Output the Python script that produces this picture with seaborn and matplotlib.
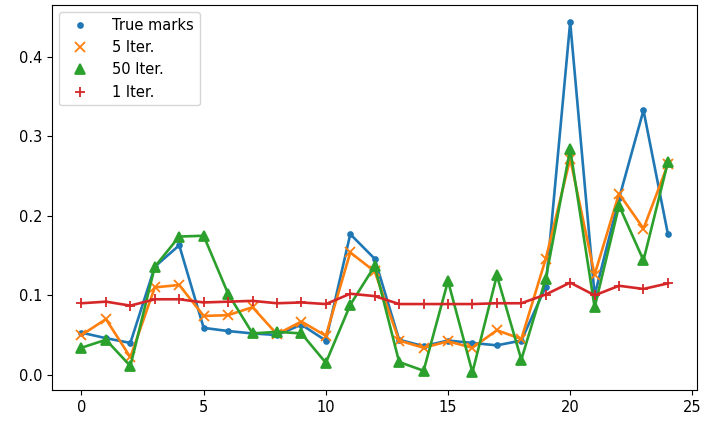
import numpy as np
import seaborn as sns
import matplotlib.pyplot as plt
from matplotlib.lines import Line2D

# === Nilai ===
iterations = list(range(25))

true_marks = [0.053, 0.046, 0.040, 0.136, 0.163, 0.059, 0.055, 0.052, 0.050, 0.063,
              0.043, 0.177, 0.146, 0.044, 0.036, 0.043, 0.040, 0.037, 0.043, 0.111,
              0.444, 0.100, 0.222, 0.333, 0.177]

iter_5 = [0.050, 0.070, 0.022, 0.110, 0.113, 0.074, 0.075, 0.085, 0.051, 0.067,
          0.049, 0.154, 0.130, 0.043, 0.034, 0.042, 0.034, 0.056, 0.045, 0.146,
          0.272, 0.126, 0.228, 0.184, 0.265]

iter_50 = [0.034, 0.044, 0.011, 0.136, 0.174, 0.175, 0.102, 0.052, 0.054, 0.052,
           0.015, 0.088, 0.137, 0.016, 0.005, 0.118, 0.003, 0.125, 0.019, 0.121,
           0.284, 0.085, 0.213, 0.144, 0.268]

iter_1 = [0.090, 0.092, 0.087, 0.095, 0.095, 0.091, 0.092, 0.093, 0.090, 0.091,
          0.089, 0.102, 0.099, 0.089, 0.089, 0.089, 0.089, 0.090, 0.090, 0.101,
          0.116, 0.100, 0.112, 0.108, 0.115]

series = [
    ("True marks", true_marks, "tab:blue", ".", 7),
    ("5 Iter.", iter_5, "tab:orange", "x", 7.5),
    ("50 Iter.", iter_50, "tab:green", "^", 7.5),
    ("1 Iter.", iter_1, "tab:red", "+", 7.5),
]

plt.rcParams["font.family"] = ["DejaVu Sans"]
plt.rcParams["font.size"] = 10.5

fig, ax = plt.subplots(figsize=(7.05, 4.21), dpi=100)

handles = []
for label, values, color, marker, size in series:
    sns.lineplot(x=iterations, y=values, ax=ax, color=color, marker=marker,
                 markersize=size, markeredgecolor=color, markeredgewidth=1.3,
                 linewidth=1.9, legend=False)
    handles.append(Line2D([], [], color=color, marker=marker, linestyle="none",
                          markersize=size, markeredgewidth=1.3, label=label))

ax.legend(handles=handles, loc="upper left", handletextpad=1.2)
ax.set_yticks([0.0, 0.1, 0.2, 0.3, 0.4])
ax.set_xticks([0, 5, 10, 15, 20, 25])

fig.subplots_adjust(left=0.074, right=0.989, top=0.989, bottom=0.074)
fig.savefig("out.png", dpi=100)
plt.close(fig)
